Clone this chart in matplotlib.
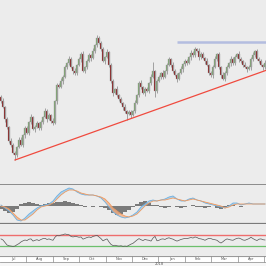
import numpy as np
import matplotlib
matplotlib.use("Agg")
import matplotlib.pyplot as plt

# price closes (chart units), one per candle
closes = [84, 78, 66, 58, 44, 40, 32, 30, 38, 45,
          40, 50, 57, 52, 63, 68, 56, 58, 62, 57,
          63, 68, 74, 66, 70, 64, 62, 84, 100, 98,
          104, 108, 118, 122, 126, 118, 114, 112, 120, 126,
          131, 114, 118, 124, 130, 127, 134, 140, 147, 142,
          136, 124, 128, 133, 120, 104, 92, 96, 90, 86,
          82, 78, 74, 71, 73, 70, 74, 82, 90, 102,
          98, 92, 96, 94, 102, 108, 114, 94, 104, 108,
          112, 108, 114, 120, 126, 120, 114, 110, 106, 112,
          116, 121, 124, 122, 128, 132, 130, 136, 134, 128,
          131, 127, 124, 120, 112, 110, 118, 126, 131, 118,
          110, 106, 112, 118, 122, 126, 122, 128, 131, 126,
          124, 120, 118, 116, 118, 126, 130, 134, 126, 124,
          120, 118, 122]
first_open = 88
wick_up = [int(c) for c in
           "2312132213" "3122131221" "2132213122" "3221321312" "2312213132"
           "2213122131" "2131221312" "3122139122" "1312213221" "3122132213"
           "2213122312" "1322132213" "2131223122" "213"]
wick_dn = [int(c) for c in
           "2132221521" "1231221312" "2213122131" "1312213221" "3122131221"
           "2131223122" "1326131212" "2131221621" "2213122131" "1322132213"
           "2131223122" "3122132213" "2213132212" "132"]

resistance = 143
resistance_start = 88
trend_a, trend_b = 7, 63   # candles whose lows define the support line

# MACD (every second candle)
macd = [1, -2, -5, -9, -14, -15, -12, -8, -5, -2, 0, 1, 2, 5, 10, 14, 16, 18, 17, 14,
        12, 11, 11, 11, 10, 8, 4, -1, -6, -9, -11, -12, -11, -9, -6, -1, 2, 5, 6, 5,
        6, 7, 9, 10, 7, 5, 5, 7, 8, 6, 5, 3, 2, 1, 0, -1, -2, 0, 3, 3,
        1, 2, 3, 2, 2, 2, 2]
signal = [0, -1, -3, -7, -11, -14, -14, -11, -8, -4, -1, 0, 1, 3, 7, 11, 14, 16, 16, 15,
          13, 12, 11, 11, 10, 9, 7, 3, -2, -5, -8, -10, -11, -10, -8, -4, 0, 3, 5, 5,
          6, 6, 7, 8, 7, 6, 5, 6, 7, 6, 5, 4, 3, 2, 1, 0, -2, -1, 1, 2,
          2, 2, 2, 2, 2, 2, 2]
hist = [-3, -5, -7, -6, -3, 2, 3, 4, 3, 2, 1, 2, 3, 3, 4, 4, 5, 4, 3, 2,
        1, -1, 0, -1, 0, -1, -2, -4, -7, -9, -8, -6, -4, -1, 2, 4, 5, 3, 1, 1,
        -1, -2, -1, 0, -1, -2, -1, 0, 1, -1, -1, -2, -1, 0, -2, -3, -1, 1, 1, 0,
        -1, 0, 0, 0, 0, 0, 0]

rsi = [57, 53, 44, 35, 32, 31, 30, 31, 36, 40,
       46, 50, 53, 51, 56, 57, 49, 52, 54, 51,
       55, 58, 59, 55, 57, 54, 52, 63, 70, 68,
       71, 72, 75, 73, 72, 66, 64, 66, 65, 63,
       64, 56, 59, 62, 64, 62, 66, 68, 70, 64,
       58, 50, 54, 57, 46, 37, 33, 34, 32, 31,
       32, 30, 31, 30, 34, 38, 41, 47, 53, 58,
       54, 51, 55, 53, 52, 49, 60, 66, 50, 52,
       56, 57, 55, 59, 61, 58, 56, 52, 49, 52,
       55, 57, 59, 58, 60, 62, 60, 64, 62, 58,
       57, 55, 52, 56, 59, 58, 55, 54, 52, 46,
       42, 47, 53, 57, 55, 53, 52, 56, 59, 60,
       57, 53, 52, 55, 58, 63, 58, 54, 51, 56,
       57, 54, 53]
rsi_hi, rsi_lo = 70, 30

months = ["Jul", "Aug", "Sep", "Oct", "Nov", "Dec", "Jan", "Feb", "Mar", "Apr"]
year_label = "2018"

bg = "#ececec"
n = len(closes)
x = np.arange(n)
opens = [first_open] + closes[:-1]
highs = [max(o, c) + w for o, c, w in zip(opens, closes, wick_up)]
lows = [min(o, c) - w for o, c, w in zip(opens, closes, wick_dn)]

fig = plt.figure(figsize=(2.66, 2.66), dpi=100)
fig.patch.set_facecolor(bg)
H = 266.0

def add(top, bottom):
    ax = fig.add_axes([0, 1 - bottom / H, 1, (bottom - top) / H])
    ax.set_facecolor(bg)
    ax.set_xlim(-0.5, n - 0.5)
    ax.set_xticks([])
    ax.set_yticks([])
    for s in ax.spines.values():
        s.set_visible(False)
    return ax

# main price panel
ax = add(0, 185)
ax.set_ylim(0, 185)
ax.vlines(x, lows, highs, color="#a0a0a0", lw=0.7)
up = [c >= o for o, c in zip(opens, closes)]
body_b = [min(o, c) for o, c in zip(opens, closes)]
body_h = [max(abs(c - o), 0.8) for o, c in zip(opens, closes)]
ax.bar(x, body_h, bottom=body_b, width=0.7,
       color=["#7fa572" if u else "#8a2020" for u in up],
       edgecolor="#9a9a9a", linewidth=0.25)
slope = (lows[trend_b] - lows[trend_a]) / (trend_b - trend_a)
tx = np.array([trend_a, n - 0.5])
ax.plot(tx, lows[trend_a] + slope * (tx - trend_a), color="#f04a3e", lw=0.9)
ax.hlines(resistance, resistance_start, n - 0.5, color="#b4bde0", lw=1.8)
ax.spines["bottom"].set_visible(True)
ax.spines["bottom"].set_color("#7a7a7a")
ax.spines["bottom"].set_linewidth(1.2)

# MACD panel
ax2 = add(185, 224)
ax2.set_ylim(-18, 21)
mx = np.arange(len(macd)) * 2
m = np.array(macd, float)
s = np.array(signal, float)
ax2.bar(mx, hist, width=1.9, color="#7a7a7a", linewidth=0)
ax2.fill_between(mx, m, s, where=m >= s, interpolate=True, color="#9ccbec", alpha=0.8, lw=0)
ax2.fill_between(mx, m, s, where=m < s, interpolate=True, color="#f3b088", alpha=0.8, lw=0)
ax2.plot(mx, m, color="#6fb0e0", lw=0.6)
ax2.plot(mx, s, color="#ee9a60", lw=0.6)
ax2.spines["bottom"].set_visible(True)
ax2.spines["bottom"].set_color("#7a7a7a")
ax2.spines["bottom"].set_linewidth(1.6)

# RSI panel
ax3 = add(224, 256)
ax3.set_ylim(-5, 111)
ax3.axhline(rsi_hi, color="#ee6e6e", lw=1.0)
ax3.axhline(rsi_lo, color="#6cbf6c", lw=0.9)
ax3.plot(x, rsi, color="#555555", lw=0.5)

# date axis
ax4 = fig.add_axes([0, 0, 1, 10 / H])
ax4.set_facecolor("#f7f7f7")
ax4.set_xlim(0, 266)
ax4.set_ylim(0, 10)
ax4.set_xticks([])
ax4.set_yticks([])
for sp in ax4.spines.values():
    sp.set_visible(False)
ax4.axhspan(4.3, 10, color="white", lw=0)
ax4.axhline(10, color="#9a9a9a", lw=0.8)
ax4.axhline(4.3, color="#9a9a9a", lw=0.6)
edges = np.linspace(0, 264, len(months) + 1)
ax4.vlines(edges[1:], 4.3, 10, color="#8a8a8a", lw=0.5)
for i, lab in enumerate(months):
    ax4.text((edges[i] + edges[i + 1]) / 2, 7.1, lab, fontsize=2.6,
             color="#555555", ha="center", va="center")
ax4.text(edges[6] + 1, 2.0, year_label, fontsize=2.6, color="#555555",
         ha="center", va="center")

fig.savefig("out.png", dpi=100, facecolor=bg)
